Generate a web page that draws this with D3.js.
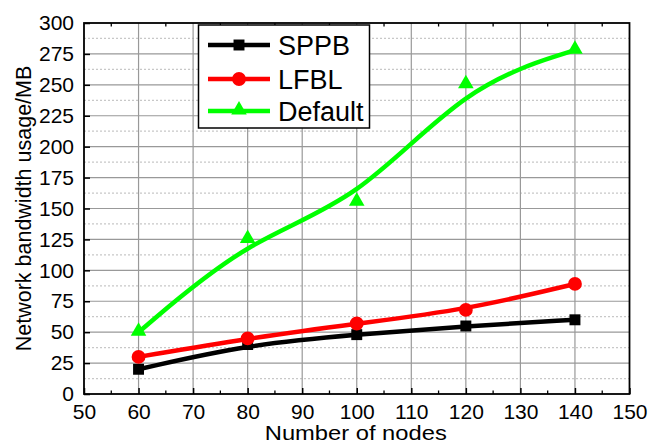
<!DOCTYPE html>
<html><head><meta charset="utf-8">
<script src="https://cdn.jsdelivr.net/npm/d3@7"></script>
<style>body{margin:0;background:#fff}svg{display:block;font-family:"Liberation Sans",Arial,sans-serif}</style>
</head><body><svg id="c" width="663" height="444"></svg>
<script>
const nodes = [60, 80, 100, 120, 140];
const sppb = [20, 40, 48, 55, 60];
const lfbl = [30, 45, 57, 68, 89];
const deflt = [50, 125, 155, 250, 278];
const xTicks = [50, 60, 70, 80, 90, 100, 110, 120, 130, 140, 150];
const yTicks = [0, 25, 50, 75, 100, 125, 150, 175, 200, 225, 250, 275, 300];
const seriesNames = ["SPPB", "LFBL", "Default"];

const svg = d3.select("#c");
const L = 84, R = 629.5, T = 23, B = 394;
const x = d3.scaleLinear().domain([50, 150]).range([L, R]);
const y = d3.scaleLinear().domain([0, 300]).range([B, T]);

// minor dotted horizontal grid
const g = svg.append("g");
d3.range(12.5, 300, 25).forEach(v => {
  g.append("line").attr("x1", L).attr("x2", R).attr("y1", y(v)).attr("y2", y(v))
    .attr("stroke", "#c8c8c8").attr("stroke-width", 1.2).attr("stroke-dasharray", "2,2");
});
// major grid
yTicks.slice(1, -1).forEach(v => {
  g.append("line").attr("x1", L).attr("x2", R).attr("y1", y(v)).attr("y2", y(v))
    .attr("stroke", "#999").attr("stroke-width", 1.2);
});
xTicks.slice(1, -1).forEach(v => {
  g.append("line").attr("y1", T).attr("y2", B).attr("x1", x(v)).attr("x2", x(v))
    .attr("stroke", "#999").attr("stroke-width", 1.2);
});

// axes
const xAxis = d3.axisBottom(x).tickValues(xTicks).tickSize(-6).tickPadding(10).tickFormat(d3.format("d"));
const xa = svg.append("g").attr("transform", `translate(0,${B})`).call(xAxis);
const yAxis = d3.axisLeft(y).tickValues(yTicks).tickSize(-6).tickPadding(10).tickFormat(d3.format("d"));
const ya = svg.append("g").attr("transform", `translate(${L},0)`).call(yAxis);
[xa, ya].forEach(a => {
  a.select(".domain").remove();
  a.selectAll(".tick line").attr("stroke", "#000").attr("stroke-width", 1.5);
  a.selectAll(".tick text").attr("font-size", 21).attr("fill", "#000")
    .attr("font-family", "'Liberation Sans',Arial,sans-serif");
});
// minor x ticks bottom & top
d3.range(55, 150, 10).forEach(v => {
  svg.append("line").attr("x1", x(v)).attr("x2", x(v)).attr("y1", B).attr("y2", B - 3.5).attr("stroke", "#000").attr("stroke-width", 1.3);
  svg.append("line").attr("x1", x(v)).attr("x2", x(v)).attr("y1", T).attr("y2", T + 3.5).attr("stroke", "#000").attr("stroke-width", 1.3);
});
// frame
svg.append("rect").attr("x", L).attr("y", T).attr("width", R - L).attr("height", B - T)
  .attr("fill", "none").attr("stroke", "#000").attr("stroke-width", 1.8);

// axis titles
svg.append("text").attr("x", (L + R) / 2 - 1).attr("y", 440).attr("text-anchor", "middle")
  .attr("font-size", 21).attr("textLength", 182).attr("lengthAdjust", "spacingAndGlyphs")
  .text("Number of nodes");
svg.append("text").attr("transform", `translate(31,${(T + B) / 2}) rotate(-90)`).attr("text-anchor", "middle")
  .attr("font-size", 21.5).text("Network bandwidth usage/MB");

// series
const colors = ["#000000", "#ff0000", "#00ff00"];
const data = [sppb, lfbl, deflt];
const line = d3.line().x((d, i) => x(nodes[i])).y(d => y(d)).curve(d3.curveBasis);
const sq = d3.symbol().type(d3.symbolSquare).size(120);
const ci = d3.symbol().type(d3.symbolCircle).size(150);
const tr = d3.symbol().type(d3.symbolTriangle).size(105);
const syms = [sq, ci, tr];
data.forEach((vals, k) => {
  svg.append("path").attr("d", line(vals)).attr("fill", "none").attr("stroke", colors[k]).attr("stroke-width", 4.5);
});
data.forEach((vals, k) => {
  vals.forEach((v, i) => {
    svg.append("path").attr("d", syms[k]()).attr("fill", colors[k])
      .attr("transform", `translate(${x(nodes[i])},${y(v) + (k === 2 ? -1 : 0)})`);
  });
});

// legend
const lg = svg.append("g");
lg.append("rect").attr("x", 198.5).attr("y", 25).attr("width", 171).attr("height", 103)
  .attr("fill", "#fff").attr("stroke", "#000").attr("stroke-width", 1.5);
const rowsY = [45, 79, 111];
seriesNames.forEach((n, k) => {
  lg.append("line").attr("x1", 208).attr("x2", 270).attr("y1", rowsY[k]).attr("y2", rowsY[k])
    .attr("stroke", colors[k]).attr("stroke-width", 4.5);
  lg.append("path").attr("d", syms[k]()).attr("fill", colors[k])
    .attr("transform", `translate(239,${rowsY[k] + (k === 2 ? -1 : 0)})`);
  lg.append("text").attr("x", 278).attr("y", rowsY[k] + 10).attr("font-size", 27).text(n);
});
</script></body></html>
